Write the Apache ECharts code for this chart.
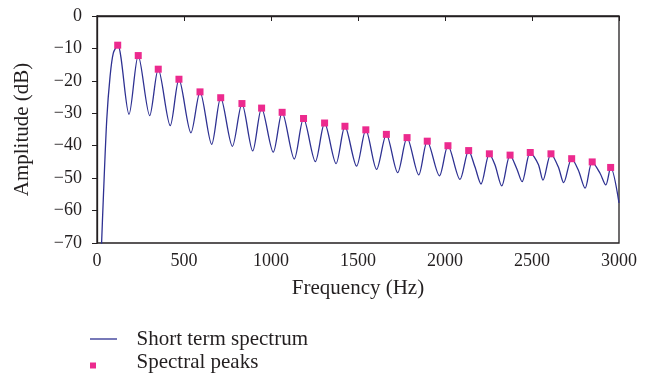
<!DOCTYPE html>
<html><head><meta charset="utf-8">
<script src="https://cdn.jsdelivr.net/npm/echarts@6/dist/echarts.min.js"></script>
<style>html,body{margin:0;padding:0;background:#fff}#c{width:653px;height:379px}</style>
</head><body><div id="c"></div>
<script>
// Short term spectrum samples (frequency Hz, amplitude dB)
const specFreq = [25,36,56,75,94,119,184,237,303,352,421,471,540,592,659,711,778,833,895,946,1013,1064,1134,1187,1255,1308,1374,1425,1492,1545,1607,1663,1728,1782,1849,1898,1968,2017,2086,2136,2172,2207,2255,2287,2326,2374,2412,2443,2490,2536,2563,2609,2651,2682,2728,2766,2805,2846,2891,2924,2952,3000];
const specDb = [-72,-56.7,-32,-18.7,-11.4,-9,-30.3,-12.2,-30.7,-16.4,-33.8,-19.5,-36,-23.4,-39.6,-25.2,-40.2,-27,-41.6,-28.4,-42,-29.7,-44.1,-31.6,-44.9,-33,-45.5,-34,-46.3,-35.1,-47.3,-36.5,-48.3,-37.5,-49,-38.6,-49.3,-40,-50.4,-41.5,-46.5,-51.8,-42.5,-45.9,-52.4,-42.9,-47,-51.1,-42.1,-45.7,-50.6,-42.5,-46.5,-51.4,-44,-47.5,-53.1,-45,-48.5,-52.1,-46.7,-57.6];
// Spectral peaks
const peakFreq = [119,237,352,471,592,711,833,946,1064,1187,1308,1425,1545,1663,1782,1898,2017,2136,2255,2374,2490,2609,2728,2846,2952];
const peakDb = [-9,-12.2,-16.4,-19.5,-23.4,-25.2,-27,-28.4,-29.7,-31.6,-33,-34,-35.1,-36.5,-37.5,-38.6,-40,-41.5,-42.5,-42.9,-42.1,-42.5,-44,-45,-46.7];
const legendNames = ['Short term spectrum','Spectral peaks'];

const FONT = '"Liberation Serif", "DejaVu Serif", serif';
const TXT = '#231f20';
const LINE_C = '#2e3192';
const PEAK_C = '#ec2a8e';
const chart = echarts.init(document.getElementById('c'), null, {renderer:'canvas'});
chart.setOption({
  animation:false,
  grid:{left:97,right:34,top:16,bottom:136,show:true,borderColor:'#231f20',borderWidth:1.3,backgroundColor:'transparent'},
  xAxis:{type:'value',min:0,max:3000,interval:500,
    name:'Frequency (Hz)',nameLocation:'middle',nameGap:35,
    nameTextStyle:{fontFamily:FONT,fontSize:21,color:TXT},
    axisLine:{lineStyle:{color:'#231f20',width:1.3}},
    axisTick:{show:true,length:5,lineStyle:{color:'#231f20'}},
    axisLabel:{fontFamily:FONT,fontSize:18,color:TXT,margin:9,formatter:v=>String(v)},
    splitLine:{show:false}},
  yAxis:{type:'value',min:-70,max:0,interval:10,
    name:'Amplitude (dB)',nameLocation:'middle',nameGap:64,nameRotate:90,
    nameTextStyle:{fontFamily:FONT,fontSize:21,color:TXT},
    axisLine:{show:true,lineStyle:{color:'#231f20',width:1.3}},
    axisTick:{show:true,length:5,lineStyle:{color:'#231f20'}},
    axisLabel:{fontFamily:FONT,fontSize:18,color:TXT,margin:15,
      formatter:v=>v<0?'\u2212'+Math.abs(v):String(v)},
    splitLine:{show:false}},
  graphic:[
    {type:'line',shape:{x1:90,y1:339,x2:117,y2:339},style:{stroke:LINE_C,lineWidth:1.3}},
    {type:'text',x:136.5,y:339,style:{text:legendNames[0],fontFamily:FONT,fontSize:21,fill:TXT,verticalAlign:'middle'}},
    {type:'rect',shape:{x:90,y:362.5,width:6,height:6},style:{fill:PEAK_C}},
    {type:'text',x:136.5,y:362,style:{text:legendNames[1],fontFamily:FONT,fontSize:21,fill:TXT,verticalAlign:'middle'}}
  ],
  series:[
    {name:legendNames[0],type:'line',data:specFreq.map((f,i)=>[f,specDb[i]]),
     showSymbol:false,smooth:0.3,clip:true,z:2,
     lineStyle:{color:LINE_C,width:1.3},itemStyle:{color:LINE_C}},
    {name:legendNames[1],type:'scatter',data:peakFreq.map((f,i)=>[f,peakDb[i]]),z:5,
     symbol:'rect',symbolSize:7,itemStyle:{color:PEAK_C,opacity:1}}
  ]
});
</script></body></html>
